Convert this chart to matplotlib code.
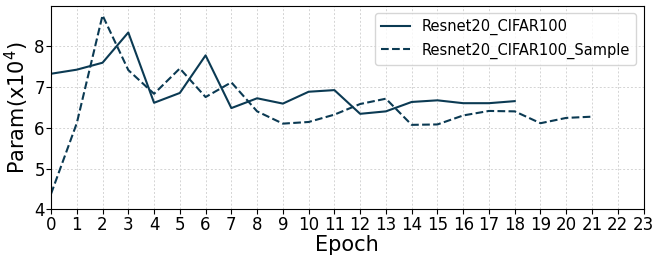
import matplotlib
matplotlib.use("Agg")
import matplotlib.pyplot as plt

# Data (values in units of 1e4)
epochs_full = list(range(19))
param_full = [7.32, 7.42, 7.59, 8.33, 6.61, 6.85, 7.77, 6.48, 6.72, 6.59,
              6.88, 6.92, 6.34, 6.40, 6.63, 6.67, 6.60, 6.60, 6.65]

epochs_sample = list(range(22))
param_sample = [4.38, 6.11, 8.75, 7.41, 6.83, 7.45, 6.75, 7.11, 6.40, 6.10,
                6.14, 6.32, 6.58, 6.71, 6.07, 6.08, 6.30, 6.41, 6.40, 6.11,
                6.24, 6.27]

x_ticks = list(range(24))
color = "#0b3a53"

fig, ax = plt.subplots(figsize=(6.54, 2.57), dpi=100)
ax.plot(epochs_full, param_full, color=color, linewidth=1.5, label="Resnet20_CIFAR100")
ax.plot(epochs_sample, param_sample, color=color, linewidth=1.5, linestyle="--",
        label="Resnet20_CIFAR100_Sample")

ax.set_xlim(0, 23)
ax.set_ylim(4, 8.98)
ax.set_xticks(x_ticks)
ax.set_yticks([4, 5, 6, 7, 8])
ax.tick_params(axis="both", labelsize=12, pad=1)
ax.set_xlabel("Epoch", fontsize=15, labelpad=1)
ax.set_ylabel("Param(x10$^4$)", fontsize=15, labelpad=2)
ax.grid(True, linestyle=(0, (2, 2)), color="#d4d4d4", linewidth=0.7)
ax.legend(loc="upper right", fontsize=10.5)

fig.subplots_adjust(left=0.078, right=0.984, top=0.977, bottom=0.185)
fig.savefig("out.png")
